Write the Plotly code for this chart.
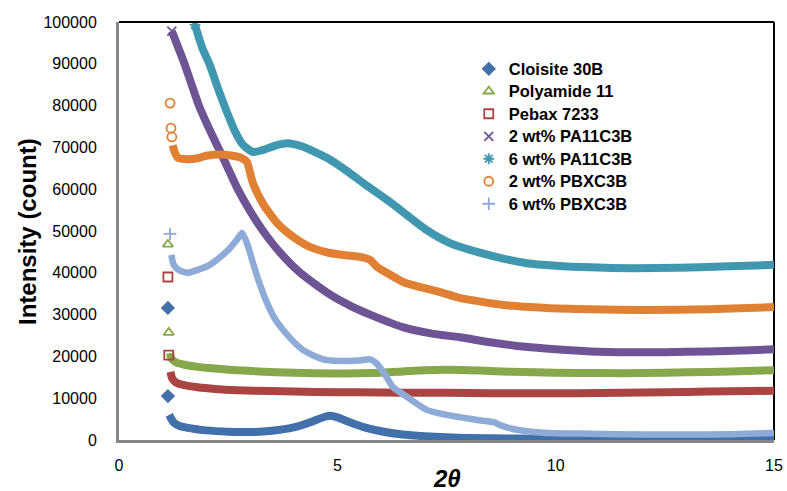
import plotly.graph_objects as go

# ---- data (2θ in degrees, intensity in counts) ----
cloisite_x = [1.12, 1.12, 1.15, 1.25, 1.4, 1.7, 2.0, 2.5, 3.0, 3.5, 4.0, 4.4, 4.7, 4.85, 5.0, 5.3, 5.6, 6.0, 6.5, 7.0, 7.5, 8.0, 9.0, 10.0, 11.0, 12.0, 13.0, 14.0, 15.0]
cloisite_y = [31600, 10500, 6000, 4200, 3300, 2700, 2300, 2000, 1900, 2200, 3000, 4300, 5500, 5800, 5400, 4200, 3100, 2100, 1300, 900, 650, 500, 350, 300, 250, 250, 250, 300, 350]

pa11_x = [1.12, 1.14, 1.17, 1.2, 1.3, 1.5, 1.8, 2.2, 2.7, 3.2, 4.0, 5.0, 5.8, 6.5, 7.0, 7.5, 8.0, 8.5, 9.0, 10.0, 11.0, 12.0, 13.0, 14.0, 15.0]
pa11_y = [46800, 25700, 20800, 19500, 18600, 18000, 17500, 17100, 16700, 16400, 16100, 15900, 16000, 16400, 16700, 16800, 16700, 16500, 16300, 16100, 16000, 16000, 16200, 16400, 16700]

pebax_x = [1.12, 1.14, 1.18, 1.22, 1.3, 1.5, 1.8, 2.2, 2.7, 3.5, 4.5, 5.5, 6.5, 7.5, 8.5, 9.5, 10.5, 11.5, 12.5, 13.5, 14.5, 15.0]
pebax_y = [39000, 20300, 16300, 14700, 13800, 13100, 12600, 12200, 11900, 11700, 11500, 11400, 11300, 11300, 11200, 11200, 11200, 11300, 11400, 11600, 11700, 11800]

pa2_x = [1.21, 1.5, 1.83, 2.05, 2.27, 2.5, 2.72, 3.0, 3.3, 3.7, 4.15, 4.8, 5.3, 5.75, 6.5, 7.2, 7.8, 8.5, 9.3, 10.0, 10.8, 11.7, 12.5, 13.5, 14.3, 15.0]
pa2_y = [97800, 90000, 80000, 74800, 70000, 64900, 60000, 54800, 50000, 44700, 40000, 35000, 32100, 30000, 27000, 25400, 24600, 23400, 22300, 21700, 21200, 21000, 21000, 21200, 21400, 21700]

pa6_x = [1.74, 1.9, 2.08, 2.27, 2.47, 2.65, 2.84, 3.07, 3.3, 3.6, 3.85, 4.2, 4.76, 5.2, 5.59, 6.2, 7.05, 7.58, 8.2, 8.8, 9.34, 10.0, 10.8, 11.8, 12.8, 13.8, 15.0]
pa6_y = [99300, 94000, 89700, 84000, 78500, 74000, 70600, 68900, 69400, 70500, 71000, 70200, 67500, 64500, 61500, 57000, 50200, 47100, 45000, 43400, 42300, 41700, 41300, 41100, 41200, 41500, 41900]

pb2_x = [1.17, 1.19, 1.21, 1.23, 1.27, 1.35, 1.5, 1.8, 2.0, 2.3, 2.6, 2.8, 2.93, 3.0, 3.07, 3.3, 3.62, 4.0, 4.37, 4.8, 5.2, 5.52, 5.75, 5.9, 6.1, 6.55, 7.35, 7.8, 8.8, 9.8, 10.8, 12.0, 13.5, 15.0]
pb2_y = [80600, 74600, 72500, 70500, 69000, 67500, 67200, 67400, 68000, 68300, 68000, 67500, 66500, 64000, 61400, 56500, 51900, 48500, 46200, 44800, 44200, 43800, 43100, 41500, 40200, 37600, 35400, 34000, 32300, 31600, 31300, 31100, 31300, 31800]

pb6_x = [1.17, 1.2, 1.25, 1.35, 1.56, 1.8, 2.08, 2.3, 2.54, 2.7, 2.82, 2.95, 3.07, 3.2, 3.39, 3.57, 3.76, 4.0, 4.22, 4.5, 4.76, 5.2, 5.5, 5.75, 5.9, 6.1, 6.27, 6.6, 7.05, 7.5, 8.2, 8.6, 8.72, 9.0, 9.5, 10.0, 10.8, 12.0, 13.0, 14.0, 15.0]
pb6_y = [49300, 44300, 42000, 40800, 40000, 40700, 41900, 43600, 45900, 47900, 49500, 46500, 42300, 38000, 32800, 29000, 26300, 23500, 21500, 20000, 19100, 18900, 19000, 19300, 18300, 15500, 12700, 10300, 7200, 6000, 4800, 4200, 3600, 2700, 1900, 1600, 1500, 1300, 1300, 1400, 1700]

x_ticks = [0, 5, 10, 15]
y_ticks = [0, 10000, 20000, 30000, 40000, 50000, 60000, 70000, 80000, 90000, 100000]

series = [
    ("Cloisite 30B", cloisite_x, cloisite_y, "#4170AA", "diamond", 2, 8),
    ("Polyamide 11", pa11_x, pa11_y, "#86A74A", "triangle-up-open", 2, 8),
    ("Pebax 7233", pebax_x, pebax_y, "#AA4442", "square-open", 2, 8),
    ("2 wt% PA11C3B", pa2_x, pa2_y, "#6E5494", "x-thin-open", 0, 8),
    ("6 wt% PA11C3B", pa6_x, pa6_y, "#3F98B0", "asterisk-open", 0, 8),
    ("2 wt% PBXC3B", pb2_x, pb2_y, "#E08033", "circle-open", 3, 8),
    ("6 wt% PBXC3B", pb6_x, pb6_y, "#8EABD8", "cross-thin-open", 1, 6.5),
]

FONT = "Liberation Sans, Arial, sans-serif"
fig = go.Figure()
for name, xs, ys, col, sym, k, lw in series:
    # continuous scan drawn as a thick band
    fig.add_trace(go.Scatter(
        x=xs[k:], y=ys[k:], mode="lines", legendgroup=name, showlegend=False,
        line=dict(color=col, width=lw, shape="spline", smoothing=0.6),
        hoverinfo="skip"))
    # isolated low-angle points (also the legend entry)
    m = max(k, 1)
    fig.add_trace(go.Scatter(
        x=xs[:m], y=ys[:m], mode="markers",
        name="<span style='font-size:16.5px'>" + name + "</span>", legendgroup=name,
        marker=dict(symbol=sym, size=9, color=col,
                    line=dict(color=col, width=1.8))))

fig.update_layout(
    width=787, height=491,
    margin=dict(l=119, r=13, t=22, b=51, autoexpand=False),
    paper_bgcolor="white", plot_bgcolor="white",
    font=dict(family=FONT, size=16, color="black"),
    showlegend=True,
    legend=dict(x=0.534, y=0.927, xanchor="left", yanchor="top",
                font=dict(family=FONT, size=15, color="black", weight="bold"),
                bgcolor="rgba(0,0,0,0)", tracegroupgap=0),
    xaxis=dict(range=[0, 15], tickvals=x_ticks, ticktext=[str(v) for v in x_ticks],
               showgrid=False, zeroline=False, showline=True, linecolor="#868686",
               linewidth=3, ticks="", ticklabelstandoff=9, automargin=False,
               tickfont=dict(family=FONT, size=16, color="black")),
    yaxis=dict(range=[0, 100000], tickvals=y_ticks, ticktext=[str(v) for v in y_ticks],
               showgrid=False, zeroline=False, showline=True, linecolor="#868686",
               linewidth=3, ticks="", ticklabelstandoff=16, automargin=False,
               tickfont=dict(family=FONT, size=16, color="black")),
    shapes=[
        dict(type="line", xref="paper", yref="paper", x0=0, x1=1, y0=1, y1=1,
             line=dict(color="black", width=2), layer="above"),
        dict(type="line", xref="paper", yref="paper", x0=1, x1=1, y0=0, y1=1,
             line=dict(color="black", width=2), layer="below"),
    ],
    annotations=[
        dict(text="<b><i>2θ</i></b>", xref="paper", yref="paper", x=0.5, y=-0.091,
             xanchor="center", yanchor="middle", showarrow=False,
             font=dict(family=FONT, size=24, color="black")),
        dict(text="<b>Intensity (count)</b>", xref="paper", yref="paper", x=-0.1405, y=0.5,
             textangle=-90, xanchor="center", yanchor="middle", showarrow=False,
             font=dict(family=FONT, size=24, color="black")),
    ],
)

fig.write_html("out.html")
